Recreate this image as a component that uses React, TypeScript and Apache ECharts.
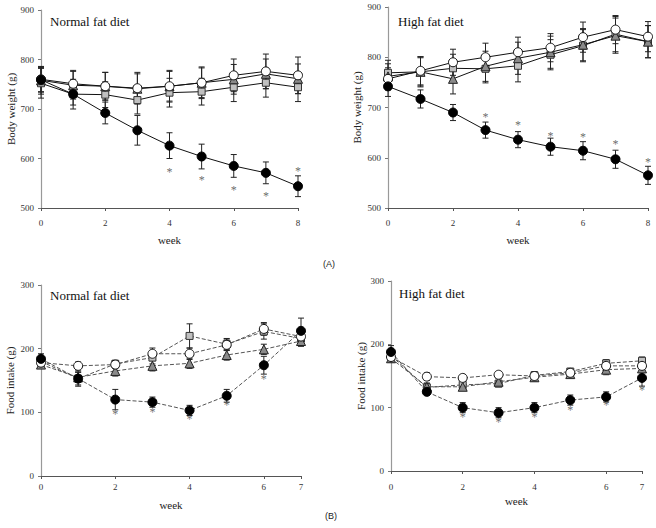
import React, { useEffect, useRef } from "react";
import * as echarts from "echarts";

const FONT = "Liberation Serif, Times New Roman, serif";

const weeksBW = [0, 1, 2, 3, 4, 5, 6, 7, 8];
const weeksFI = [0, 1, 2, 3, 4, 5, 6, 7];

// (A) Body weight, normal fat diet
const bwN_filled = [759, 730, 692, 657, 626, 604, 585, 571, 544];
const bwN_filledErr = [25, 22, 22, 30, 26, 25, 23, 22, 21];
const bwN_open = [760, 751, 746, 742, 746, 753, 768, 776, 768];
const bwN_openErr = [25, 27, 28, 32, 32, 32, 33, 35, 37];
const bwN_tri = [758, 748, 746, 741, 746, 753, 760, 771, 761];
const bwN_triErr = [28, 28, 28, 30, 30, 30, 30, 30, 30];
const bwN_sq = [752, 730, 729, 718, 733, 735, 744, 753, 744];
const bwN_sqErr = [30, 30, 26, 28, 29, 27, 29, 29, 29];
const bwN_star: [number, number][] = [[4, 572], [5, 556], [6, 537], [7, 525], [8, 574]];

// (A) Body weight, high fat diet
const bwH_filled = [742, 717, 690, 655, 636, 622, 614, 597, 565];
const bwH_filledErr = [20, 18, 16, 16, 16, 17, 18, 18, 18];
const bwH_open = [757, 773, 790, 800, 810, 819, 840, 855, 841];
const bwH_openErr = [22, 28, 26, 28, 30, 28, 30, 28, 30];
const bwH_tri = [762, 771, 757, 782, 798, 810, 825, 843, 831];
const bwH_triErr = [25, 30, 30, 30, 32, 32, 32, 35, 32];
const bwH_sq = [769, 771, 778, 777, 783, 805, 823, 846, 831];
const bwH_sqErr = [25, 28, 28, 28, 32, 30, 32, 35, 32];
const bwH_star: [number, number][] = [[3, 682], [4, 666], [5, 643], [6, 641], [7, 628], [8, 591]];

// (B) Food intake, normal fat diet
const fiN_filled = [184, 153, 120, 116, 103, 126, 174, 228];
const fiN_filledErr = [8, 12, 16, 8, 8, 10, 14, 20];
const fiN_open = [178, 173, 175, 192, 192, 206, 231, 219];
const fiN_openErr = [6, 6, 6, 9, 9, 9, 10, 10];
const fiN_tri = [175, 155, 165, 173, 177, 190, 199, 212];
const fiN_triErr = [6, 8, 8, 8, 8, 8, 8, 8];
const fiN_sq = [180, 153, 176, 186, 220, 207, 227, 216];
const fiN_sqErr = [7, 10, 6, 10, 19, 9, 12, 12];
const fiN_star: [number, number][] = [[2, 98], [3, 100], [4, 89], [5, 111], [6, 152]];

// (B) Food intake, high fat diet
const fiH_filled = [188, 125, 100, 92, 100, 112, 117, 147];
const fiH_filledErr = [10, 5, 8, 8, 8, 8, 8, 13];
const fiH_open = [180, 149, 147, 152, 150, 155, 166, 166];
const fiH_openErr = [6, 6, 5, 5, 6, 5, 6, 6];
const fiH_tri = [178, 133, 133, 141, 148, 153, 160, 162];
const fiH_triErr = [6, 6, 5, 5, 6, 5, 8, 6];
const fiH_sq = [182, 132, 136, 138, 151, 157, 170, 174];
const fiH_sqErr = [6, 6, 5, 5, 6, 5, 6, 6];
const fiH_star: [number, number][] = [[2, 86], [3, 77], [4, 86], [5, 97], [6, 104], [7, 128]];

const panelTitles = ["Normal fat diet", "High fat diet", "Normal fat diet", "High fat diet"];

function errRender(params: any, api: any) {
  const x = api.value(0);
  const lo = api.coord([x, api.value(1)]);
  const hi = api.coord([x, api.value(2)]);
  const w = 3;
  const style = { stroke: "#222", lineWidth: 1 };
  return {
    type: "group",
    children: [
      { type: "line", shape: { x1: lo[0], y1: lo[1], x2: hi[0], y2: hi[1] }, style },
      { type: "line", shape: { x1: lo[0] - w, y1: lo[1], x2: lo[0] + w, y2: lo[1] }, style },
      { type: "line", shape: { x1: hi[0] - w, y1: hi[1], x2: hi[0] + w, y2: hi[1] }, style },
    ],
  };
}

const markerStyles = [
  { symbol: "rect", size: 7, color: "#c0c0c0", border: "#333" },
  { symbol: "triangle", size: 9, color: "#8a8a8a", border: "#222" },
  { symbol: "circle", size: 9, color: "#ffffff", border: "#111" },
  { symbol: "circle", size: 9, color: "#000000", border: "#000" },
];

function buildPanel(
  idx: number,
  weeks: number[],
  seriesVals: number[][],
  seriesErr: number[][],
  stars: [number, number][],
  dashed: boolean
) {
  const out: any[] = [];
  seriesVals.forEach((vals, s) => {
    const err = seriesErr[s];
    out.push({
      type: "custom",
      xAxisIndex: idx,
      yAxisIndex: idx,
      renderItem: errRender,
      itemStyle: { color: "#222" },
      data: weeks.map((w, i) => [w, vals[i] - err[i], vals[i] + err[i]]),
      encode: { x: 0, y: [1, 2] },
      z: 1,
      silent: true,
    });
  });
  seriesVals.forEach((vals, s) => {
    const m = markerStyles[s];
    out.push({
      type: "line",
      xAxisIndex: idx,
      yAxisIndex: idx,
      data: weeks.map((w, i) => [w, vals[i]]),
      symbol: m.symbol,
      symbolSize: m.size,
      showSymbol: true,
      itemStyle: { color: m.color, borderColor: m.border, borderWidth: 1 },
      lineStyle: dashed
        ? { color: "#555", width: 1, type: [4, 2] }
        : { color: "#111", width: 1, type: "solid" },
      z: 2 + s,
      silent: true,
    });
  });
  out.push({
    type: "scatter",
    xAxisIndex: idx,
    yAxisIndex: idx,
    symbol: "circle",
    symbolSize: 1,
    itemStyle: { color: "transparent" },
    label: {
      show: true,
      position: "inside",
      formatter: "*",
      color: "#444",
      fontSize: 12,
      fontFamily: FONT,
    },
    data: stars,
    z: 10,
    silent: true,
  });
  return out;
}

const grids = [
  { left: 41, top: 10, width: 257, height: 198 },
  { left: 388, top: 7, width: 260, height: 201 },
  { left: 41, top: 285, width: 260, height: 191 },
  { left: 391, top: 281, width: 251, height: 190 },
];

export default function App() {
  const ref = useRef<HTMLDivElement>(null);
  useEffect(() => {
    if (!ref.current) return;
    const chart = echarts.init(ref.current, null, { renderer: "svg" });

    const xMax = [8, 8, 7, 7];
    const yMin = [500, 500, 0, 0];
    const yMax = [900, 900, 300, 300];
    const yName = ["Body weight (g)", "Body weight (g)", "Food intake (g)", "Food intake (g)"];
    const xLabelMargin = [10, 10, 6, 11];
    const xNameGap = [26, 26, 23, 24];
    const yNameGap = [25, 26, 26, 23];

    const xAxis = grids.map((g, i) => ({
      gridIndex: i,
      type: "value",
      min: 0,
      max: xMax[i],
      interval: 2,
      axisLine: { show: true, lineStyle: { color: "#555", width: 1.2 } },
      axisTick: { show: true, length: 3, lineStyle: { color: "#555" } },
      axisLabel: { fontFamily: FONT, fontSize: 9, color: "#333", margin: xLabelMargin[i] },
      splitLine: { show: false },
      name: "week",
      nameLocation: "middle",
      nameGap: xNameGap[i],
      nameTextStyle: { fontFamily: FONT, fontSize: 11, color: "#222" },
    }));
    const yAxis = grids.map((g, i) => ({
      gridIndex: i,
      type: "value",
      min: yMin[i],
      max: yMax[i],
      interval: 100,
      axisLine: { show: true, lineStyle: { color: "#999", width: 1.2 } },
      axisTick: { show: true, length: 3, lineStyle: { color: "#777" } },
      axisLabel: { fontFamily: FONT, fontSize: 9, color: "#333", margin: 7 },
      splitLine: { show: false },
      name: yName[i],
      nameLocation: "middle",
      nameRotate: 90,
      nameGap: yNameGap[i],
      nameTextStyle: { fontFamily: FONT, fontSize: 11, color: "#222" },
    }));

    const series = [
      ...buildPanel(0, weeksBW, [bwN_sq, bwN_tri, bwN_open, bwN_filled], [bwN_sqErr, bwN_triErr, bwN_openErr, bwN_filledErr], bwN_star, false),
      ...buildPanel(1, weeksBW, [bwH_sq, bwH_tri, bwH_open, bwH_filled], [bwH_sqErr, bwH_triErr, bwH_openErr, bwH_filledErr], bwH_star, false),
      ...buildPanel(2, weeksFI, [fiN_sq, fiN_tri, fiN_open, fiN_filled], [fiN_sqErr, fiN_triErr, fiN_openErr, fiN_filledErr], fiN_star, true),
      ...buildPanel(3, weeksFI, [fiH_sq, fiH_tri, fiH_open, fiH_filled], [fiH_sqErr, fiH_triErr, fiH_openErr, fiH_filledErr], fiH_star, true),
    ];

    const titlePos = [
      [50, 21],
      [398, 21],
      [50, 295],
      [399, 293],
    ];

    const graphic: any[] = panelTitles.map((t, i) => ({
      type: "text",
      x: titlePos[i][0],
      y: titlePos[i][1],
      style: {
        text: t,
        fill: "#111",
        fontSize: 13,
        fontFamily: FONT,
        align: "left",
        verticalAlign: "middle",
      },
      z: 20,
    }));
    graphic.push(
      {
        type: "text",
        x: 329,
        y: 264,
        style: { text: "(A)", fill: "#222", fontSize: 9, fontFamily: "Liberation Sans, Arial, sans-serif", align: "center", verticalAlign: "middle" },
      },
      {
        type: "text",
        x: 331,
        y: 516,
        style: { text: "(B)", fill: "#222", fontSize: 9, fontFamily: "Liberation Sans, Arial, sans-serif", align: "center", verticalAlign: "middle" },
      }
    );

    chart.setOption({
      animation: false,
      backgroundColor: "#ffffff",
      textStyle: { fontFamily: FONT },
      grid: grids.map((g) => ({ ...g, containLabel: false })),
      xAxis,
      yAxis,
      series,
      graphic,
    });
    return () => chart.dispose();
  }, []);

  return (
    <div
      ref={ref}
      style={{ position: "absolute", left: 0, top: 0, width: 656, height: 528 }}
    />
  );
}
